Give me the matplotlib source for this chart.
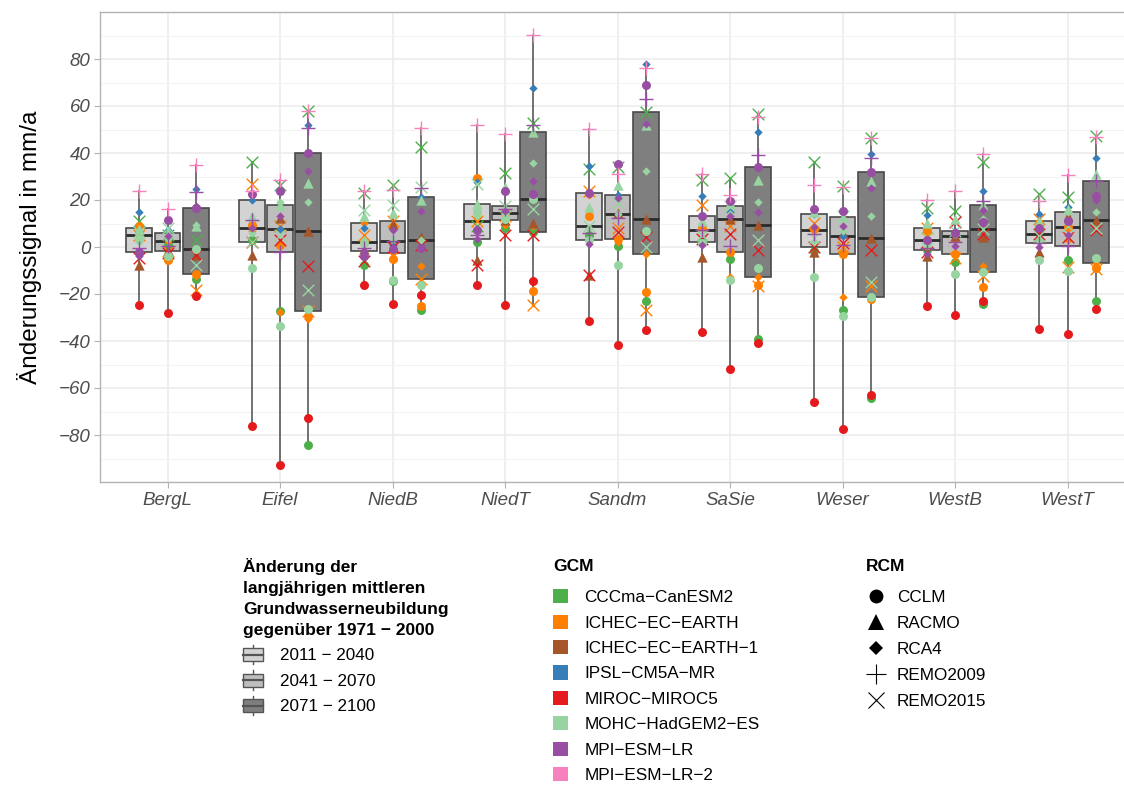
import numpy as np
import matplotlib.pyplot as plt
from matplotlib.patches import Patch, Rectangle
from matplotlib.lines import Line2D
from matplotlib.legend_handler import HandlerBase
from matplotlib.ticker import MultipleLocator

plt.rcParams['font.family'] = ['Liberation Sans', 'DejaVu Sans']

regions = ['BergL', 'Eifel', 'NiedB', 'NiedT', 'Sandm', 'SaSie', 'Weser', 'WestB', 'WestT']
periods = ['2011 − 2040', '2041 − 2070', '2071 − 2100']
period_fill = ['#d3d3d3', '#bebebe', '#7f7f7f']

gcms = ['CCCma−CanESM2', 'ICHEC−EC−EARTH', 'ICHEC−EC−EARTH−1', 'IPSL−CM5A−MR',
        'MIROC−MIROC5', 'MOHC−HadGEM2−ES', 'MPI−ESM−LR', 'MPI−ESM−LR−2']
gcm_colors = ['#4daf4a', '#ff7f00', '#a65628', '#377eb8',
              '#e41a1c', '#98d4a1', '#984ea3', '#f781bf']
rcms = ['CCLM', 'RACMO', 'RCA4', 'REMO2009', 'REMO2015']
rcm_markers = ['o', '^', 'D', '+', 'x']
rcm_sizes = [42, 55, 18, 110, 70]

# ensemble members (GCM index, RCM index)
member_gcm = [0, 0, 1, 1, 1, 2, 3, 4, 4, 5, 5, 5, 5, 6, 6, 6, 7]
member_rcm = [0, 4, 0, 2, 4, 1, 2, 0, 4, 0, 1, 2, 4, 0, 2, 3, 3]

# change signal in mm/a, one row per period, one value per member
bergl = [[6.0, 10.9, 8.8, 8.1, 5.2, -7.5, 14.9, -24.5, -4.7, 3.5, 7.5, 2.1, 6.5, -2.1, -4.0, -0.4, 23.7],
         [1.0, 5.0, -5.7, 2.7, -1.7, -1.1, 7.4, -28.1, -2.5, -3.7, 6.0, 3.5, 8.0, 11.3, 4.5, 0.5, 16.2],
         [-13.6, 3.0, -11.5, -12.5, -18.2, -3.3, 24.7, -20.7, -3.3, -0.7, 8.8, 9.5, -7.8, 16.6, 17.3, 23.3, 35.0]]
eifel = [[2.8, 36.2, 9.5, 7.0, 27.0, -3.5, 19.9, -76.0, 2.1, -8.9, 13.3, 6.0, 2.0, 22.6, 8.1, 11.3, 24.0],
         [-27.4, 26.5, 1.0, -27.8, 8.8, 12.3, 7.8, -92.6, 3.1, -33.5, 18.0, 19.0, 5.0, 24.0, 13.0, -2.1, 28.4],
         [-84.1, 57.7, -29.5, -30.5, -27.1, 6.7, 52.1, -72.8, -8.2, -26.5, 27.2, 19.1, -18.2, 40.0, 32.5, 50.6, 57.9]]
niedb = [[-7.5, 23.0, 2.1, 10.2, 5.2, -0.9, 8.0, -16.0, -6.1, 1.5, 13.0, 3.0, 15.9, -3.7, -1.6, -0.3, 24.0],
         [-14.6, 26.2, -5.1, -2.6, 10.9, 9.8, 1.0, -24.3, 0.0, -13.9, 14.5, 3.1, 18.0, -1.0, 7.4, 2.7, 24.4],
         [-26.7, 42.6, -25.0, -7.9, -13.5, 4.1, 21.3, -20.3, 1.0, -16.0, 20.0, 3.1, 25.5, -0.4, 15.2, 25.1, 50.6]]
niedt = [[2.0, 9.0, 29.4, 12.3, 10.9, -5.7, 27.5, -16.2, -7.5, 14.8, 18.3, 13.0, 27.0, 7.4, 3.4, 5.0, 52.1],
         [8.0, 31.3, 14.5, 9.5, 13.0, 11.3, 15.0, -24.8, 5.0, 12.0, 25.7, 14.0, 17.3, 24.0, 15.5, 16.0, 48.2],
         [6.2, 52.6, -18.9, 8.8, -24.5, 10.2, 67.7, -14.6, 5.0, 20.4, 48.8, 35.7, 16.2, 22.7, 28.0, 52.0, 90.1]]
sandm = [[5.0, 33.2, 13.3, 22.0, 23.7, -11.8, 34.5, -31.6, -11.8, 3.1, 17.0, 8.0, 9.1, 22.8, 1.3, 6.0, 50.2],
         [0.3, 34.0, 3.5, 2.0, 8.0, 14.5, 22.1, -41.6, 6.4, -7.8, 26.2, 14.2, 18.7, 35.5, 20.9, 12.3, 31.2],
         [-23.1, 57.4, -19.1, -3.0, -26.7, 12.1, 78.0, -35.3, 4.1, 6.7, 51.8, 32.3, -0.1, 68.9, 52.3, 62.8, 76.2]]
sasie = [[2.1, 28.7, 8.0, 9.5, 17.9, -4.3, 21.6, -36.2, 3.4, 1.5, 11.0, 6.0, 5.0, 13.0, 0.7, 7.1, 31.1],
         [-5.0, 29.4, -2.1, -12.8, 9.1, 11.9, 15.0, -51.9, 5.7, -14.2, 18.7, 14.0, 17.6, 19.5, 13.0, 0.6, 22.0],
         [-39.1, 56.7, -16.0, -12.8, -16.5, 9.5, 49.1, -40.9, -1.1, -8.9, 28.7, 19.0, 3.1, 34.0, 15.0, 39.3, 55.3]]
weser = [[-1.8, 36.2, 7.5, 7.1, 10.2, -2.3, 14.2, -66.0, 0.0, -12.8, 14.9, 2.0, 4.0, 16.3, 8.5, 5.5, 26.2],
         [-27.0, 25.8, -2.8, -21.3, 0.0, 6.0, 4.5, -77.3, 1.5, -29.5, 12.6, 7.0, 13.0, 15.2, 9.1, 1.0, 25.5],
         [-64.2, 46.2, -22.1, -21.8, -16.7, 3.8, 39.7, -62.8, -1.1, -21.4, 27.9, 13.0, -15.0, 31.8, 25.0, 38.0, 46.5]]
westb = [[-1.4, 16.6, 7.4, 6.0, 8.1, -4.0, 13.8, -25.0, -2.0, 1.0, 10.2, 2.0, 4.0, 3.1, -3.0, -0.5, 19.9],
         [-6.4, 15.2, -2.8, 3.0, -4.5, 4.5, 6.7, -28.8, 10.5, -11.3, 11.9, 5.0, 7.0, 6.0, 0.3, 2.0, 24.0],
         [-24.3, 36.0, -17.0, -8.2, -12.5, 4.1, 24.0, -22.8, 5.5, -10.6, 18.0, 12.0, 7.8, 10.6, 15.9, 19.7, 39.7]]
westt = [[3.1, 22.7, 10.2, 7.0, 12.0, -2.0, 14.0, -34.9, 5.5, -5.7, 10.9, 2.5, 4.5, 8.1, 0.0, 1.7, 19.4],
         [-5.4, 21.1, 8.4, 3.0, -8.5, 13.0, 17.0, -36.9, 4.3, -10.1, 16.2, 14.9, 9.0, 11.2, 5.2, 0.3, 30.5],
         [-23.1, 47.2, -8.9, -6.8, -9.5, 11.3, 38.0, -26.2, 7.1, -4.7, 31.1, 15.0, 8.0, 21.8, 20.0, 28.2, 47.0]]

data = [bergl, eifel, niedb, niedt, sandm, sasie, weser, westb, westt]


class BoxKey(HandlerBase):
    # little boxplot glyph for the period legend
    def create_artists(self, legend, orig_handle, xdescent, ydescent, width, height, fontsize, trans):
        x0, y0 = -xdescent, -ydescent
        cx = x0 + width / 2
        box = Rectangle((x0, y0 + 0.16 * height), width, 0.68 * height,
                        facecolor=orig_handle.get_facecolor(), edgecolor='#555555', lw=1.0, transform=trans)
        med = Line2D([x0, x0 + width], [y0 + height / 2] * 2, color='#555555', lw=1.6, transform=trans)
        wu = Line2D([cx, cx], [y0 + 0.84 * height, y0 + height], color='#555555', lw=1.0, transform=trans)
        wl = Line2D([cx, cx], [y0, y0 + 0.16 * height], color='#555555', lw=1.0, transform=trans)
        return [wu, wl, box, med]


fig = plt.figure(figsize=(11.24, 7.85), dpi=100)
ax = fig.add_axes([100 / 1124, 1 - 482 / 785, 1035 / 1124, 470 / 785])

offsets = [-0.25, 0.0, 0.25]
for p in range(3):
    pos = np.arange(1, len(regions) + 1) + offsets[p]
    vals = [np.array(d[p]) for d in data]
    ax.boxplot(vals, positions=pos, widths=0.23, whis=(0, 100), showfliers=False, showcaps=False,
               patch_artist=True, manage_ticks=False,
               boxprops=dict(facecolor=period_fill[p], edgecolor='#4a4a4a', lw=1.2),
               whiskerprops=dict(color='#5a5a5a', lw=1.2),
               medianprops=dict(color='#2b2b2b', lw=2.0), zorder=2)
    for m in range(len(member_gcm)):
        ys = [v[m] for v in vals]
        ax.scatter(pos, ys, color=gcm_colors[member_gcm[m]], marker=rcm_markers[member_rcm[m]],
                   s=rcm_sizes[member_rcm[m]], linewidths=1.0 if rcm_markers[member_rcm[m]] in '+x' else 0,
                   zorder=3)

ax.set_xlim(0.4, 9.6)
ax.set_ylim(-100, 100)
ax.set_xticks(np.arange(1, len(regions) + 1))
ax.set_xticklabels(regions)
ax.yaxis.set_major_locator(MultipleLocator(20))
ax.yaxis.set_minor_locator(MultipleLocator(10))
ax.set_yticks(np.arange(-80, 81, 20))
ax.grid(which='major', color='#ebebeb', lw=1.1, zorder=0)
ax.grid(which='minor', axis='y', color='#f3f3f3', lw=0.8, zorder=0)
ax.set_axisbelow(True)
ax.tick_params(axis='both', which='major', length=4, color='#b3b3b3', labelsize=13.5, labelcolor='#4d4d4d', pad=3)
ax.tick_params(axis='y', which='minor', length=0)
for lab in ax.get_xticklabels() + ax.get_yticklabels():
    lab.set_fontstyle('italic')
for sp in ax.spines.values():
    sp.set_color('#b3b3b3')
    sp.set_linewidth(1.0)
ax.set_ylabel('Änderungssignal in mm/a', fontsize=17.5, labelpad=12)

# legends
box_handles = [Patch(facecolor=c) for c in period_fill]
leg1 = fig.legend(box_handles, periods, loc='upper left', bbox_to_anchor=(243 / 1124, 1 - 558 / 785),
                  frameon=False, borderpad=0, borderaxespad=0, fontsize=12.3,
                  title='Änderung der\nlangjährigen mittleren\nGrundwasserneubildung\ngegenüber 1971 − 2000',
                  title_fontproperties={'weight': 'bold', 'size': 12.5}, alignment='left',
                  handlelength=1.15, handleheight=1.35, handletextpad=1.0, labelspacing=0.37,
                  handler_map={Patch: BoxKey()})
leg1.get_title().set_linespacing(1.5)
leg1._legend_box.sep = 5

gcm_handles = [Patch(facecolor=c) for c in gcm_colors]
leg2 = fig.legend(gcm_handles, gcms, loc='upper left', bbox_to_anchor=(553 / 1124, 1 - 559 / 785),
                  frameon=False, borderpad=0, borderaxespad=0, fontsize=12.3,
                  title='GCM', title_fontproperties={'weight': 'bold', 'size': 12.5}, alignment='left',
                  handlelength=0.9, handleheight=0.9, handletextpad=0.95, labelspacing=0.55)
leg2._legend_box.sep = 11

rcm_handles = [Line2D([], [], ls='none', color='black', marker=mk, markersize=ms, markeredgewidth=mw)
               for mk, ms, mw in zip(rcm_markers, [10, 12, 7.5, 14, 11], [0, 0, 0, 0.8, 0.8])]
leg3 = fig.legend(rcm_handles, rcms, loc='upper left', bbox_to_anchor=(866 / 1124, 1 - 559 / 785),
                  frameon=False, borderpad=0, borderaxespad=0, fontsize=12.3,
                  title='RCM', title_fontproperties={'weight': 'bold', 'size': 12.5}, alignment='left',
                  handlelength=1.2, handletextpad=0.6, labelspacing=0.65)
leg3._legend_box.sep = 11.5

fig.savefig('out.png', dpi=100)
